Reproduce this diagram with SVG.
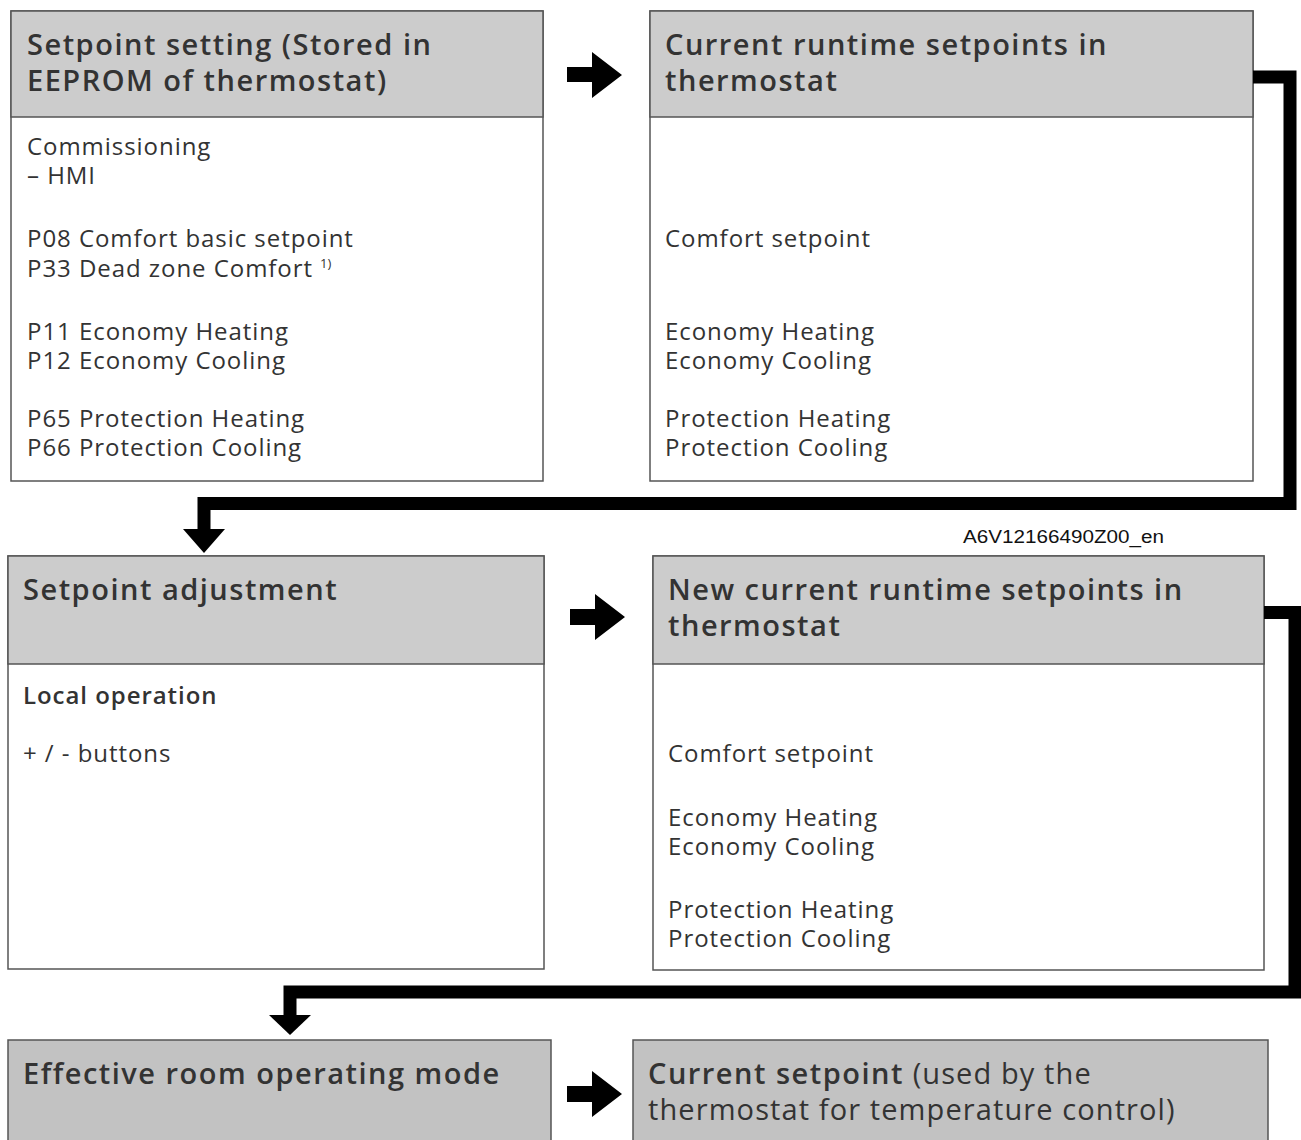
<svg xmlns="http://www.w3.org/2000/svg" width="1301" height="1140" viewBox="0 0 1301 1140">
<style>
.box{fill:#ffffff;stroke:#555555;stroke-width:1.5}
.hdr{fill:#cccccc;stroke:#555555;stroke-width:1.5}
.hdr2{fill:#c2c2c2;stroke:#555555;stroke-width:1.5}
.h{font-family:"Open Sans","Noto Sans",sans-serif;font-size:29px;font-weight:600;fill:#333333;letter-spacing:1.5px}
.hn{font-weight:400;letter-spacing:1.1px}
.b{font-family:"Open Sans","Noto Sans",sans-serif;font-size:24px;font-weight:400;fill:#333333;letter-spacing:0.95px}
.bb{font-weight:600}
.sup{font-family:"Open Sans","Noto Sans",sans-serif;font-size:13px;fill:#333333}
.lbl{font-family:"Liberation Sans",Arial,sans-serif;font-size:18px;fill:#111111}
.conn{fill:none;stroke:#000000;stroke-width:13;stroke-linejoin:miter}
</style>
<g id="node-setpoint-setting">
<rect class="box" x="11" y="11" width="532" height="470"/>
<rect class="hdr" x="11" y="11" width="532" height="106"/>
<text class="h" x="27" y="55">Setpoint setting (Stored in</text>
<text class="h" x="27" y="91">EEPROM of thermostat)</text>
<text class="b" x="27" y="155">Commissioning</text>
<text class="b" x="27" y="184">– HMI</text>
<text class="b" x="27" y="247">P08 Comfort basic setpoint</text>
<text class="b" x="27" y="277">P33 Dead zone Comfort</text>
<text class="sup" x="320" y="268">1)</text>
<text class="b" x="27" y="340">P11 Economy Heating</text>
<text class="b" x="27" y="369">P12 Economy Cooling</text>
<text class="b" x="27" y="427">P65 Protection Heating</text>
<text class="b" x="27" y="456">P66 Protection Cooling</text>
</g>
<g id="node-current-runtime">
<rect class="box" x="650" y="11" width="603" height="470"/>
<rect class="hdr" x="650" y="11" width="603" height="106"/>
<text class="h" x="665" y="55">Current runtime setpoints in</text>
<text class="h" x="665" y="91">thermostat</text>
<text class="b" x="665" y="247">Comfort setpoint</text>
<text class="b" x="665" y="340">Economy Heating</text>
<text class="b" x="665" y="369">Economy Cooling</text>
<text class="b" x="665" y="427">Protection Heating</text>
<text class="b" x="665" y="456">Protection Cooling</text>
</g>
<g id="node-setpoint-adjustment">
<rect class="box" x="8" y="556" width="536" height="413"/>
<rect class="hdr" x="8" y="556" width="536" height="108"/>
<text class="h" x="23" y="600">Setpoint adjustment</text>
<text class="b bb" x="23" y="704">Local operation</text>
<text class="b" x="23" y="762">+ / - buttons</text>
</g>
<g id="node-new-runtime">
<rect class="box" x="653" y="556" width="611" height="414"/>
<rect class="hdr" x="653" y="556" width="611" height="108"/>
<text class="h" x="668" y="600">New current runtime setpoints in</text>
<text class="h" x="668" y="636">thermostat</text>
<text class="b" x="668" y="762">Comfort setpoint</text>
<text class="b" x="668" y="826">Economy Heating</text>
<text class="b" x="668" y="855">Economy Cooling</text>
<text class="b" x="668" y="918">Protection Heating</text>
<text class="b" x="668" y="947">Protection Cooling</text>
</g>
<g id="node-effective-mode">
<rect class="hdr2" x="8" y="1040" width="543" height="110"/>
<text class="h" x="23" y="1084">Effective room operating mode</text>
</g>
<g id="node-current-setpoint">
<rect class="hdr2" x="633" y="1040" width="635" height="110"/>
<text class="h" x="648" y="1084">Current setpoint<tspan class="hn"> (used by the</tspan></text>
<text class="h hn" x="648" y="1120">thermostat for temperature control)</text>
</g>
<text class="lbl" x="963" y="543" textLength="201" lengthAdjust="spacingAndGlyphs">A6V12166490Z00_en</text>
<g id="connectors">
<path d="M567 67H592V52L622 75L592 98V82H567Z" fill="#000"/>
<path d="M570 609H595V594L625 617L595 640V625H570Z" fill="#000"/>
<path d="M567 1086H592V1071L622 1094L592 1117V1102H567Z" fill="#000"/>
<path class="conn" d="M1253 77H1290V503.5H204V530"/>
<path d="M183 529H225L204 553Z" fill="#000"/>
<path class="conn" d="M1264 612.5H1295V992H290V1016"/>
<path d="M269 1015H311L290 1035Z" fill="#000"/>
</g>
</svg>
